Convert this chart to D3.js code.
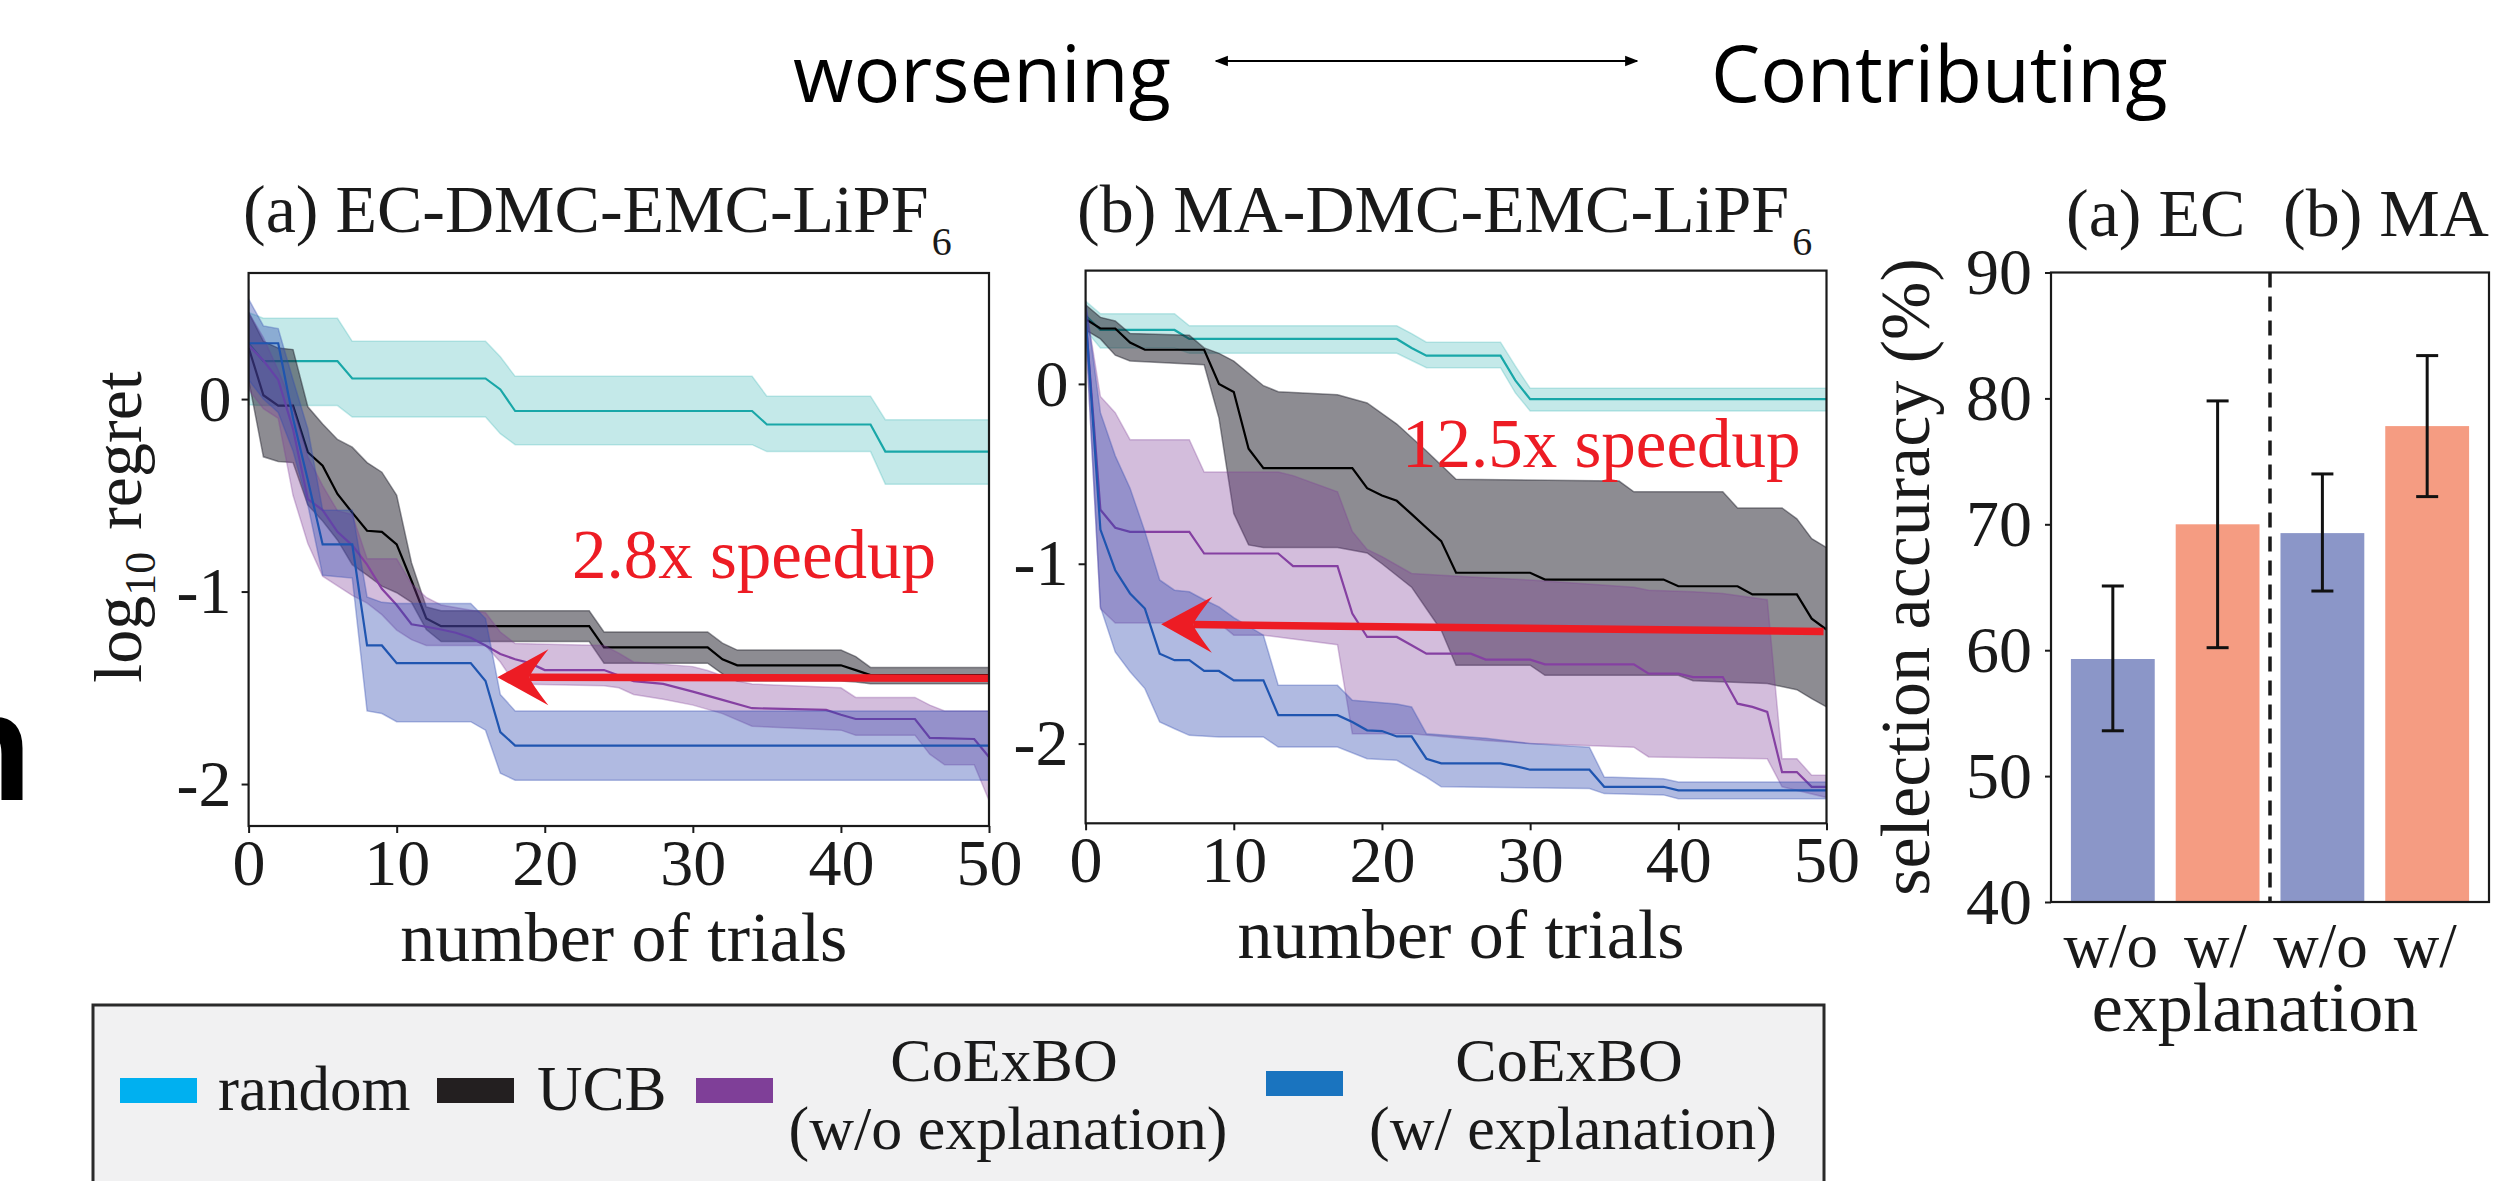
<!DOCTYPE html>
<html>
<head>
<meta charset="utf-8">
<script src="https://cdn.jsdelivr.net/npm/d3@7"></script>
<style>
  body { margin: 0; background: #fff; }
  svg { display: block; }
</style>
</head>
<body>
<div class="container"></div>
<script>
// ---- data: [trial, log10 regret] vertices ----
// (a) EC-DMC-EMC-LiPF6
var ecRandomMean = [[0,0.29],[1,0.197],[6,0.197],[7,0.107],[16,0.107],[17,0.05],[18,-0.062],[34,-0.062],[35,-0.132],[42,-0.132],[43,-0.273],[50,-0.273]];
var ecRandomHi = [[0,0.45],[1,0.42],[6,0.42],[7,0.30],[16,0.30],[17,0.22],[18,0.118],[34,0.118],[35,0.015],[42,0.015],[43,-0.107],[50,-0.107]];
var ecRandomLo = [[0,-0.03],[1,-0.034],[6,-0.034],[7,-0.093],[16,-0.093],[17,-0.18],[18,-0.237],[34,-0.237],[35,-0.273],[42,-0.273],[43,-0.442],[50,-0.442]];

var ecUcbMean = [[0,0.268],[1,0.02],[2,-0.034],[3,-0.034],[4,-0.276],[5,-0.346],[6,-0.493],[7,-0.59],[8,-0.684],[9,-0.69],[10,-0.755],[11,-0.944],[12,-1.14],[13,-1.18],[23,-1.18],[24,-1.29],[31,-1.29],[32,-1.352],[33,-1.383],[40,-1.383],[41,-1.408],[42,-1.434],[50,-1.434]];
var ecUcbHi = [[0,0.45],[1,0.3],[2,0.265],[3,0.257],[4,-0.04],[5,-0.13],[6,-0.21],[7,-0.25],[8,-0.33],[9,-0.38],[10,-0.5],[11,-0.85],[12,-1.08],[13,-1.1],[23,-1.1],[24,-1.21],[31,-1.21],[32,-1.268],[33,-1.304],[40,-1.304],[41,-1.338],[42,-1.394],[50,-1.394]];
var ecUcbLo = [[0,0.1],[1,-0.3],[2,-0.324],[3,-0.33],[4,-0.55],[5,-0.634],[6,-0.732],[7,-0.86],[8,-0.915],[9,-0.972],[10,-1.006],[11,-1.056],[12,-1.197],[13,-1.26],[23,-1.26],[24,-1.372],[31,-1.372],[32,-1.428],[33,-1.465],[40,-1.465],[41,-1.47],[42,-1.479],[50,-1.479]];

var ecWoMean = [[0,0.28],[1,0.2],[2,0.1],[3,-0.155],[4,-0.52],[5,-0.577],[6,-0.69],[7,-0.76],[8,-0.86],[9,-0.986],[10,-1.07],[11,-1.17],[12,-1.183],[13,-1.197],[14,-1.214],[15,-1.24],[16,-1.28],[17,-1.324],[18,-1.352],[19,-1.372],[20,-1.408],[24,-1.408],[25,-1.436],[26,-1.465],[28,-1.48],[30,-1.52],[32,-1.563],[34,-1.606],[39,-1.615],[40,-1.64],[41,-1.662],[45,-1.662],[46,-1.76],[49,-1.766],[50,-1.86]];
var ecWoHi = [[0,0.45],[1,0.32],[2,0.15],[3,-0.04],[4,-0.3],[5,-0.45],[6,-0.58],[7,-0.6],[8,-0.83],[10,-0.83],[11,-0.96],[12,-1.03],[13,-1.07],[16,-1.11],[17,-1.21],[18,-1.27],[24,-1.28],[25,-1.32],[26,-1.366],[30,-1.39],[31,-1.41],[33,-1.465],[34,-1.48],[40,-1.5],[41,-1.55],[45,-1.55],[46,-1.59],[47,-1.62],[50,-1.62]];
var ecWoLo = [[0,0.05],[1,-0.05],[2,-0.1],[3,-0.5],[4,-0.75],[5,-0.92],[6,-0.97],[7,-1.02],[8,-1.06],[9,-1.12],[10,-1.2],[11,-1.25],[12,-1.28],[16,-1.28],[17,-1.366],[18,-1.48],[24,-1.49],[25,-1.5],[26,-1.535],[28,-1.56],[30,-1.59],[32,-1.634],[34,-1.7],[40,-1.72],[41,-1.746],[45,-1.746],[46,-1.845],[47,-1.9],[49,-1.9],[50,-2.085]];

var ecWMean = [[0,0.29],[2,0.29],[3,-0.1],[4,-0.42],[5,-0.755],[7,-0.755],[8,-1.28],[9,-1.28],[10,-1.372],[15,-1.372],[16,-1.465],[17,-1.73],[18,-1.8],[50,-1.8]];
var ecWHi = [[0,0.52],[1,0.38],[2,0.366],[3,0.1],[4,-0.155],[5,-0.577],[7,-0.577],[8,-1.028],[9,-1.056],[10,-1.062],[15,-1.062],[16,-1.14],[17,-1.535],[18,-1.62],[50,-1.62]];
var ecWLo = [[0,0.1],[1,0.0],[2,-0.07],[3,-0.27],[4,-0.55],[5,-0.915],[7,-0.93],[8,-1.62],[9,-1.634],[10,-1.676],[15,-1.676],[16,-1.72],[17,-1.944],[18,-1.98],[50,-1.98]];

// (b) MA-DMC-EMC-LiPF6
var maRandomMean = [[0,0.38],[1,0.30],[6,0.30],[7,0.25],[21,0.25],[22,0.2],[23,0.157],[28,0.157],[29,0.02],[30,-0.085],[50,-0.085]];
var maRandomHi = [[0,0.46],[1,0.39],[6,0.39],[7,0.323],[21,0.323],[22,0.28],[23,0.232],[28,0.232],[29,0.1],[30,-0.024],[50,-0.024]];
var maRandomLo = [[0,0.3],[1,0.2],[6,0.2],[7,0.17],[21,0.17],[22,0.13],[23,0.09],[28,0.09],[29,-0.05],[30,-0.15],[50,-0.15]];

var maUcbMean = [[0,0.36],[1,0.308],[2,0.308],[3,0.23],[4,0.19],[8,0.19],[9,0.0],[10,-0.045],[11,-0.36],[12,-0.468],[18,-0.468],[19,-0.58],[20,-0.62],[21,-0.65],[22,-0.724],[23,-0.8],[24,-0.874],[25,-1.05],[30,-1.05],[31,-1.088],[39,-1.088],[40,-1.125],[44,-1.125],[45,-1.17],[48,-1.17],[49,-1.305],[50,-1.366]];
var maUcbHi = [[0,0.44],[1,0.37],[2,0.35],[3,0.28],[7,0.27],[8,0.2],[9,0.17],[10,0.127],[12,-0.01],[13,-0.043],[17,-0.06],[19,-0.106],[21,-0.223],[23,-0.373],[25,-0.53],[36,-0.54],[37,-0.6],[43,-0.6],[44,-0.69],[47,-0.69],[48,-0.75],[49,-0.86],[50,-0.91]];
var maUcbLo = [[0,0.3],[1,0.25],[2,0.16],[3,0.127],[8,0.106],[9,-0.19],[10,-0.72],[11,-0.895],[12,-0.91],[17,-0.91],[19,-0.94],[20,-1.0],[22,-1.13],[23,-1.25],[24,-1.37],[25,-1.564],[30,-1.564],[31,-1.62],[40,-1.62],[41,-1.65],[46,-1.666],[48,-1.7],[49,-1.75],[50,-1.796]];

var maWoMean = [[0,0.37],[1,-0.7],[2,-0.8],[3,-0.823],[7,-0.823],[8,-0.943],[13,-0.943],[14,-1.013],[17,-1.013],[18,-1.277],[19,-1.407],[21,-1.407],[22,-1.453],[23,-1.5],[26,-1.5],[27,-1.533],[30,-1.533],[31,-1.559],[37,-1.559],[38,-1.611],[40,-1.611],[41,-1.63],[43,-1.63],[44,-1.778],[45,-1.796],[46,-1.824],[47,-2.158],[48,-2.158],[49,-2.24],[50,-2.24]];
var maWoHi = [[0,0.44],[1,-0.07],[2,-0.16],[3,-0.31],[7,-0.31],[8,-0.49],[13,-0.49],[14,-0.51],[17,-0.6],[18,-0.82],[19,-0.92],[20,-0.96],[22,-1.054],[26,-1.073],[30,-1.09],[37,-1.13],[38,-1.147],[41,-1.156],[43,-1.165],[46,-1.2],[47,-2.084],[48,-2.084],[49,-2.176],[50,-2.176]];
var maWoLo = [[0,0.3],[1,-1.25],[2,-1.33],[9,-1.33],[10,-1.397],[12,-1.397],[17,-1.45],[18,-1.945],[22,-1.945],[24,-1.96],[27,-1.982],[30,-2.0],[37,-2.02],[38,-2.074],[46,-2.084],[47,-2.24],[50,-2.3]];

var maWMean = [[0,0.38],[1,-0.81],[2,-1.036],[3,-1.165],[4,-1.249],[5,-1.5],[6,-1.536],[7,-1.536],[8,-1.596],[9,-1.596],[10,-1.648],[12,-1.648],[13,-1.842],[17,-1.842],[18,-1.88],[19,-1.926],[20,-1.93],[21,-1.96],[22,-1.96],[23,-2.084],[24,-2.11],[28,-2.11],[29,-2.125],[30,-2.145],[34,-2.145],[35,-2.24],[39,-2.24],[40,-2.26],[50,-2.26]];
var maWHi = [[0,0.46],[1,-0.16],[2,-0.4],[3,-0.58],[4,-0.82],[5,-1.09],[6,-1.147],[7,-1.156],[8,-1.2],[9,-1.24],[10,-1.3],[12,-1.397],[13,-1.676],[17,-1.676],[18,-1.759],[21,-1.78],[22,-1.796],[23,-1.945],[27,-1.97],[30,-2.0],[34,-2.02],[35,-2.186],[39,-2.195],[40,-2.213],[50,-2.213]];
var maWLo = [[0,0.3],[1,-1.24],[2,-1.49],[3,-1.6],[4,-1.694],[5,-1.88],[6,-1.917],[7,-1.954],[9,-1.963],[12,-1.963],[13,-2.019],[17,-2.019],[19,-2.084],[21,-2.093],[22,-2.14],[23,-2.186],[24,-2.24],[34,-2.25],[35,-2.278],[39,-2.285],[40,-2.306],[50,-2.306]];

var trialTicks = [0, 10, 20, 30, 40, 50];
var regretTicks = [0, -1, -2];

// selection accuracy (%)
var barLabels = ["w/o", "w/", "w/o", "w/"];
var barValues = [59.3, 70.0, 69.3, 77.8];
var barErrLow = [53.6, 60.2, 64.7, 72.2];
var barErrHigh = [65.1, 79.8, 74.0, 83.4];
var accuracyTicks = [40, 50, 60, 70, 80, 90];

var methodNames = [["random"], ["UCB"], ["CoExBO", "(w/o explanation)"], ["CoExBO", "(w/ explanation)"]];
var lineColors = ["#19a7a8", "#000000", "#8540a2", "#1f55b0"];
var bandColors = ["#1aa9ab", "#1b1a26", "#7f3f98", "#2f4ab0"];
var bandOpacity = [0.26, 0.5, 0.34, 0.38];
var legendColors = ["#00b0f0", "#231f20", "#7f3f98", "#1a74bf"];

// ---- layout ----
var svgWidth = 2499, svgHeight = 1181;
var serif = "'Liberation Serif', 'Times New Roman', serif";

var svg = d3.select(".container")
    .append("svg")
    .attr("width", svgWidth)
    .attr("height", svgHeight);

// cut-off panel letter at the left edge
svg.append("text")
    .attr("x", -62).attr("y", 800)
    .attr("font-family", "'Liberation Sans', Arial, sans-serif")
    .attr("font-weight", "bold")
    .attr("font-size", 154)
    .text("n");

// header: worsening <-> Contributing
var defs = svg.append("defs");
defs.append("marker")
    .attr("id", "thinhead")
    .attr("viewBox", "0 0 10 10")
    .attr("refX", 9).attr("refY", 5)
    .attr("markerWidth", 6).attr("markerHeight", 6)
    .attr("orient", "auto-start-reverse")
    .append("path").attr("d", "M0,1 L10,5 L0,9 Z").attr("fill", "#000");

svg.append("text").attr("x", 793).attr("y", 102)
    .attr("font-family", "'Open Sans', 'Noto Sans', sans-serif")
    .attr("font-size", 78).text("worsening");
svg.append("text").attr("x", 1711).attr("y", 102)
    .attr("font-family", "'Open Sans', 'Noto Sans', sans-serif")
    .attr("font-size", 78).text("Contributing");
svg.append("line")
    .attr("x1", 1216).attr("x2", 1637).attr("y1", 61).attr("y2", 61)
    .attr("stroke", "#000").attr("stroke-width", 2.2)
    .attr("marker-start", "url(#thinhead)")
    .attr("marker-end", "url(#thinhead)");

var panels = [
    {
        left: 248.6, right: 989, top: 273, bottom: 826, yDomain: [-2.218, 0.655],
        title: "(a) EC-DMC-EMC-LiPF", titleX: 243,
        series: [[ecRandomMean, ecRandomHi, ecRandomLo], [ecUcbMean, ecUcbHi, ecUcbLo],
                 [ecWoMean, ecWoHi, ecWoLo], [ecWMean, ecWHi, ecWLo]],
        arrowFrom: [50, -1.45], arrowTo: [16.8, -1.445],
        note: "2.8x speedup", noteX: 572, noteY: 578, ylabel: true
    },
    {
        left: 1085.6, right: 1826.5, top: 270.6, bottom: 823.3, yDomain: [-2.443, 0.63],
        title: "(b) MA-DMC-EMC-LiPF", titleX: 1077,
        series: [[maRandomMean, maRandomHi, maRandomLo], [maUcbMean, maUcbHi, maUcbLo],
                 [maWoMean, maWoHi, maWoLo], [maWMean, maWHi, maWLo]],
        arrowFrom: [49.8, -1.376], arrowTo: [5.1, -1.336],
        note: "12.5x speedup", noteX: 1402, noteY: 467, ylabel: false
    }
];

panels.forEach(function (p, pi) {
    var x = d3.scaleLinear().domain([0, 50]).range([p.left, p.right]);
    var y = d3.scaleLinear().domain(p.yDomain).range([p.bottom, p.top]);
    var line = d3.line().x(function (d) { return x(d[0]); }).y(function (d) { return y(d[1]); });

    var clipId = "clip" + pi;
    defs.append("clipPath").attr("id", clipId)
        .append("rect")
        .attr("x", p.left).attr("y", p.top)
        .attr("width", p.right - p.left).attr("height", p.bottom - p.top);

    var plot = svg.append("g").attr("clip-path", "url(#" + clipId + ")");

    p.series.forEach(function (s, i) {
        var outline = s[1].concat(s[2].slice().reverse());
        plot.append("path")
            .attr("d", line(outline) + "Z")
            .attr("fill", bandColors[i])
            .attr("fill-opacity", bandOpacity[i])
            .attr("stroke", bandColors[i])
            .attr("stroke-opacity", bandOpacity[i] * 0.9)
            .attr("stroke-width", 1.5);
        plot.append("path")
            .attr("d", line(s[0]))
            .attr("fill", "none")
            .attr("stroke", lineColors[i])
            .attr("stroke-width", 2.2);
    });

    // red speedup arrow
    var x0 = x(p.arrowFrom[0]), y0 = y(p.arrowFrom[1]);
    var x1 = x(p.arrowTo[0]), y1 = y(p.arrowTo[1]);
    var ang = Math.atan2(y1 - y0, x1 - x0);
    var ux = Math.cos(ang), uy = Math.sin(ang), nx = -uy, ny = ux;
    var headLen = 51, headHalf = 28, notch = 19;
    var bx = x1 - ux * headLen, by = y1 - uy * headLen;
    var kx = x1 - ux * (headLen - notch), ky = y1 - uy * (headLen - notch);
    plot.append("line")
        .attr("x1", x0).attr("y1", y0).attr("x2", kx).attr("y2", ky)
        .attr("stroke", "#ed1c24").attr("stroke-width", 7.5);
    plot.append("path")
        .attr("d", "M" + x1 + "," + y1 +
            "L" + (bx + nx * headHalf) + "," + (by + ny * headHalf) +
            "Q" + (kx + nx * 6 - ux * 2) + "," + (ky + ny * 6 - uy * 2) + " " + kx + "," + ky +
            "Q" + (kx - nx * 6 - ux * 2) + "," + (ky - ny * 6 - uy * 2) + " " + (bx - nx * headHalf) + "," + (by - ny * headHalf) +
            "Z")
        .attr("fill", "#ed1c24");

    svg.append("text")
        .attr("x", p.noteX).attr("y", p.noteY)
        .attr("font-family", serif).attr("font-size", 69)
        .attr("fill", "#ed1c24")
        .text(p.note);

    // frame
    svg.append("rect")
        .attr("x", p.left).attr("y", p.top)
        .attr("width", p.right - p.left).attr("height", p.bottom - p.top)
        .attr("fill", "none").attr("stroke", "#1a1a1a").attr("stroke-width", 2.2);

    var bottomAxis = d3.axisBottom(x).tickValues(trialTicks).tickSize(7).tickPadding(5);
    var leftAxis = d3.axisLeft(y).tickValues(regretTicks).tickSize(7).tickPadding(10)
        .tickFormat(function (d) { return String(d); });

    var gx = svg.append("g").attr("transform", "translate(0," + p.bottom + ")").call(bottomAxis);
    var gy = svg.append("g").attr("transform", "translate(" + p.left + ",0)").call(leftAxis);
    [gx, gy].forEach(function (g) {
        g.select(".domain").remove();
        g.selectAll("line").attr("stroke", "#1a1a1a").attr("stroke-width", 2);
        g.selectAll("text").attr("font-family", serif).attr("font-size", 66).attr("fill", "#1a1a1a");
    });

    svg.append("text")
        .attr("x", (p.left + p.right) / 2 + 5).attr("y", p.bottom + 135)
        .attr("text-anchor", "middle")
        .attr("font-family", serif).attr("font-size", 70).attr("fill", "#1a1a1a")
        .text("number of trials");

    var t = svg.append("text")
        .attr("x", p.titleX).attr("y", 232)
        .attr("font-family", serif).attr("font-size", 68).attr("fill", "#1a1a1a")
        .text(p.title);
    t.append("tspan").attr("font-size", 40).attr("dx", 3).attr("dy", 23).text("6");

    if (p.ylabel) {
        var yl = svg.append("text")
            .attr("transform", "translate(141,527) rotate(-90)")
            .attr("text-anchor", "middle")
            .attr("font-family", serif).attr("font-size", 68).attr("fill", "#1a1a1a");
        yl.append("tspan").text("log");
        yl.append("tspan").attr("font-size", 44).attr("dy", 14).text("10");
        yl.append("tspan").attr("dy", -14).attr("dx", 22).text("regret");
    }
});

// ---- bar chart: selection accuracy ----
var bar = {left: 2051, right: 2489, top: 272.5, bottom: 902};
var xBar = d3.scaleLinear().domain([-0.59, 3.59]).range([bar.left, bar.right]);
var yBar = d3.scaleLinear().domain([40, 90]).range([bar.bottom, bar.top]);
var barColors = ["#8b96c8", "#f59c82", "#8b96c8", "#f59c82"];

svg.selectAll(".bar")
    .data(barValues)
    .enter()
    .append("rect")
    .classed("bar", true)
    .attr("x", function (d, i) { return xBar(i - 0.4); })
    .attr("width", xBar(0.4) - xBar(-0.4))
    .attr("y", function (d) { return yBar(d); })
    .attr("height", function (d) { return yBar(40) - yBar(d); })
    .attr("fill", function (d, i) { return barColors[i]; });

svg.append("line")
    .attr("x1", xBar(1.5)).attr("x2", xBar(1.5))
    .attr("y1", bar.top).attr("y2", bar.bottom)
    .attr("stroke", "#1a1a1a").attr("stroke-width", 3.5)
    .attr("stroke-dasharray", "15,9");

barValues.forEach(function (v, i) {
    var cx = xBar(i);
    var g = svg.append("g").attr("stroke", "#111").attr("stroke-width", 3);
    g.append("line").attr("x1", cx).attr("x2", cx).attr("y1", yBar(barErrLow[i])).attr("y2", yBar(barErrHigh[i]));
    g.append("line").attr("x1", cx - 11).attr("x2", cx + 11).attr("y1", yBar(barErrLow[i])).attr("y2", yBar(barErrLow[i]));
    g.append("line").attr("x1", cx - 11).attr("x2", cx + 11).attr("y1", yBar(barErrHigh[i])).attr("y2", yBar(barErrHigh[i]));
});

svg.append("rect")
    .attr("x", bar.left).attr("y", bar.top)
    .attr("width", bar.right - bar.left).attr("height", bar.bottom - bar.top)
    .attr("fill", "none").attr("stroke", "#1a1a1a").attr("stroke-width", 2.2);

var barAxis = d3.axisLeft(yBar).tickValues(accuracyTicks).tickSize(6).tickPadding(13);
var gb = svg.append("g").attr("transform", "translate(" + bar.left + ",0)").call(barAxis);
gb.select(".domain").remove();
gb.selectAll("line").attr("stroke", "#1a1a1a").attr("stroke-width", 2);
gb.selectAll("text").attr("font-family", serif).attr("font-size", 66).attr("fill", "#1a1a1a");

svg.selectAll(".barlabel")
    .data(barLabels)
    .enter()
    .append("text")
    .attr("x", function (d, i) { return xBar(i) - 2; })
    .attr("y", 967)
    .attr("text-anchor", "middle")
    .attr("font-family", serif).attr("font-size", 63).attr("fill", "#1a1a1a")
    .text(function (d) { return d; });

svg.append("text")
    .attr("x", 2255).attr("y", 1031)
    .attr("text-anchor", "middle")
    .attr("font-family", serif).attr("font-size", 70).attr("fill", "#1a1a1a")
    .text("explanation");

svg.append("text")
    .attr("transform", "translate(1929,577) rotate(-90)")
    .attr("text-anchor", "middle")
    .attr("font-family", serif).attr("font-size", 70).attr("fill", "#1a1a1a")
    .text("selection accuracy (%)");

svg.append("text").attr("x", 2066).attr("y", 236)
    .attr("font-family", serif).attr("font-size", 68).attr("fill", "#1a1a1a").text("(a) EC");
svg.append("text").attr("x", 2283).attr("y", 236)
    .attr("font-family", serif).attr("font-size", 68).attr("fill", "#1a1a1a").text("(b) MA");

// ---- legend ----
var legend = svg.append("g");
legend.append("rect")
    .attr("x", 93).attr("y", 1005).attr("width", 1731).attr("height", 220)
    .attr("fill", "#f1f1f2").attr("stroke", "#2a2a2a").attr("stroke-width", 3);

var swatchX = [120, 437, 696, 1266];
var swatchY = [1078, 1078, 1078, 1071];
var labelX = [218, 537, 1008, 1573];
methodNames.forEach(function (name, i) {
    legend.append("rect")
        .attr("x", swatchX[i]).attr("y", swatchY[i])
        .attr("width", 77).attr("height", 25)
        .attr("fill", legendColors[i]);
    if (name.length === 1) {
        legend.append("text")
            .attr("x", labelX[i]).attr("y", 1110)
            .attr("font-family", serif).attr("font-size", 63).attr("fill", "#1a1a1a")
            .text(name[0]);
    } else {
        legend.append("text")
            .attr("x", labelX[i] - 4).attr("y", 1081)
            .attr("text-anchor", "middle")
            .attr("font-family", serif).attr("font-size", 62).attr("fill", "#1a1a1a")
            .text(name[0]);
        legend.append("text")
            .attr("x", labelX[i]).attr("y", 1149)
            .attr("text-anchor", "middle")
            .attr("font-family", serif).attr("font-size", 62).attr("fill", "#1a1a1a")
            .text(name[1]);
    }
});
</script>
</body>
</html>
